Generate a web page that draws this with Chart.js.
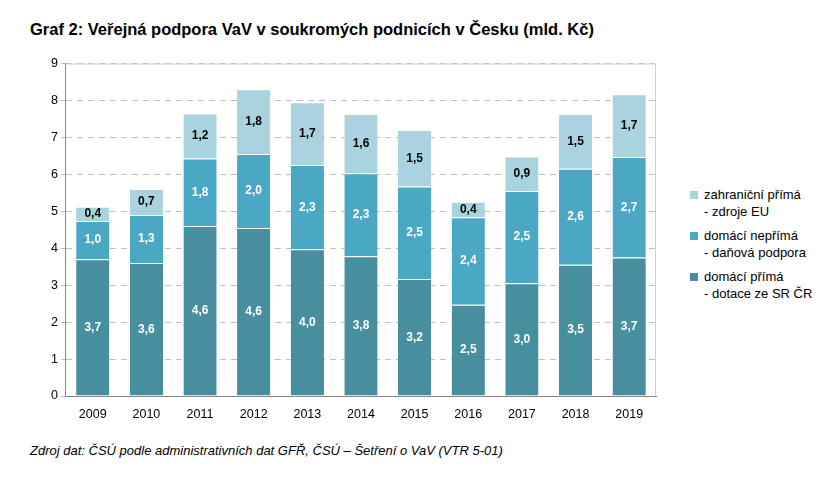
<!DOCTYPE html>
<html><head><meta charset="utf-8">
<script src="https://cdn.jsdelivr.net/npm/chart.js@4"></script>
<style>
body{margin:0;width:840px;height:480px;background:#fff;font-family:"Liberation Sans",Arial,sans-serif;position:relative;overflow:hidden}
#title{position:absolute;left:30px;top:20px;font-size:16.5px;font-weight:bold;color:#000}
#wrap{position:absolute;left:48px;top:53px;width:620px;height:372px}
#legend{position:absolute;left:690px;top:186px;font-size:13px;color:#000;line-height:17px}
.li{display:flex;margin-bottom:7px}
.sw{width:8px;height:8px;margin:5px 6px 0 0;flex:none}
#foot{position:absolute;left:30px;top:443px;font-size:13px;font-style:italic;color:#000}
</style></head><body>
<div id="title">Graf 2: Veřejná podpora VaV v soukromých podnicích v Česku (mld. Kč)</div>
<div id="wrap"><canvas id="c"></canvas></div>
<div id="legend">
<div class="li"><div class="sw" style="background:#a9d3df"></div><div>zahraniční přímá<br>- zdroje EU</div></div>
<div class="li"><div class="sw" style="background:#4aa8c4"></div><div>domácí nepřímá<br>- daňová podpora</div></div>
<div class="li"><div class="sw" style="background:#478e9e"></div><div>domácí přímá<br>- dotace ze SR ČR</div></div>
</div>
<div id="foot">Zdroj dat: ČSÚ podle administrativních dat GFŘ, ČSÚ – Šetření o VaV (VTR 5-01)</div>
<script>
const categories=["2009","2010","2011","2012","2013","2014","2015","2016","2017","2018","2019"];
const domaciPrima=[3.7,3.6,4.6,4.55,3.97,3.78,3.17,2.47,3.05,3.55,3.75];
const domaciNeprima=[1.04,1.3,1.83,2.0,2.28,2.25,2.5,2.37,2.5,2.6,2.72];
const zahranicni=[0.38,0.7,1.22,1.75,1.7,1.6,1.53,0.42,0.93,1.48,1.7];
const labelsPrima=["3,7","3,6","4,6","4,6","4,0","3,8","3,2","2,5","3,0","3,5","3,7"];
const labelsNeprima=["1,0","1,3","1,8","2,0","2,3","2,3","2,5","2,4","2,5","2,6","2,7"];
const labelsZahr=["0,4","0,7","1,2","1,8","1,7","1,6","1,5","0,4","0,9","1,5","1,7"];
const yTicks=[0,1,2,3,4,5,6,7,8,9];
const lblSets=[labelsPrima,labelsNeprima,labelsZahr];
const labelPlugin={id:'lbl',afterDatasetsDraw(ch){const c=ch.ctx;c.save();c.textAlign='center';c.textBaseline='middle';
ch.data.datasets.forEach((ds,i)=>{ch.getDatasetMeta(i).data.forEach((b,j)=>{const y=(b.y+b.base)/2;
c.font='bold 12px "Liberation Sans",Arial';c.fillStyle=i==2?'#000':'#fff';c.fillText(lblSets[i][j],b.x,y);});});c.restore();}};
const frame={id:'frame',beforeDatasetsDraw(ch){const a=ch.chartArea,c=ch.ctx;c.save();c.strokeStyle='#d0d0d0';c.lineWidth=1;c.beginPath();c.moveTo(a.left,a.top+0.5);c.lineTo(a.right-0.5,a.top+0.5);c.lineTo(a.right-0.5,a.bottom);c.stroke();c.restore();}};
new Chart(document.getElementById('c'),{type:'bar',
data:{labels:categories,datasets:[
{label:'domácí přímá',data:domaciPrima,backgroundColor:'#478e9e'},
{label:'domácí nepřímá',data:domaciNeprima,backgroundColor:'#4aa8c4'},
{label:'zahraniční přímá',data:zahranicni,backgroundColor:'#a9d3df'}]},
options:{responsive:true,maintainAspectRatio:false,animation:false,
layout:{padding:{top:8,right:12}},
datasets:{bar:{categoryPercentage:0.62,barPercentage:1,borderWidth:{top:1},borderColor:'#ffffff'}},
plugins:{legend:{display:false},tooltip:{enabled:false}},
scales:{x:{stacked:true,grid:{display:false},border:{color:'#888'},ticks:{color:'#000',font:{size:12.5,family:'"Liberation Sans",Arial'}}},
y:{stacked:true,min:0,max:9,afterBuildTicks(s){s.ticks=yTicks.map(v=>({value:v}));},
grid:{color:'#c0c0c0',lineWidth:1,tickLength:5,drawTicks:true},border:{color:'#888',dash:[6,5]},
ticks:{color:'#000',font:{size:12.5,family:'"Liberation Sans",Arial'}}}}},
plugins:[labelPlugin,frame]});
</script></body></html>
